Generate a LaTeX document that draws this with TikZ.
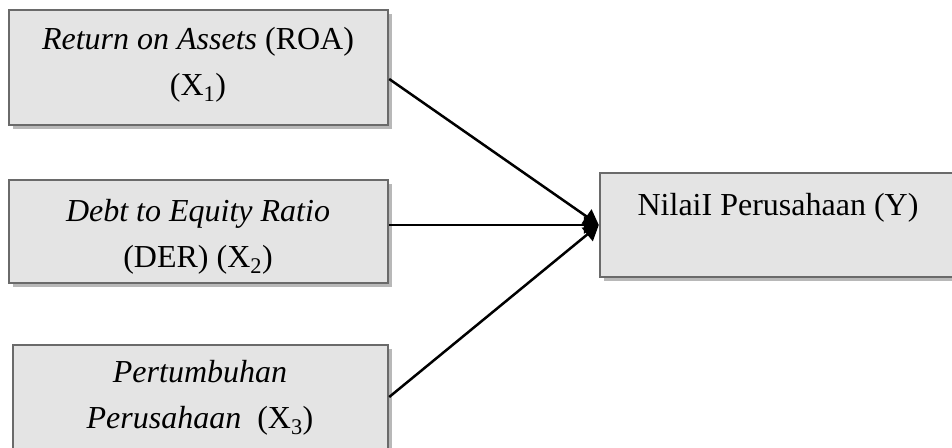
\documentclass[tikz,border=0pt]{standalone}
\usepackage{fontspec}
\setmainfont{Liberation Serif}
\usetikzlibrary{arrows.meta,shadows,calc}
\definecolor{boxfill}{HTML}{E4E4E4}
\definecolor{boxborder}{HTML}{6A6A6A}
\definecolor{shadowgray}{HTML}{B8B8B8}
\begin{document}
\begin{tikzpicture}[x=1pt,y=-1pt,
  box/.style={draw=boxborder,line width=2.4pt,fill=boxfill,rectangle,inner sep=0pt,
    drop shadow={shadow xshift=3.5pt,shadow yshift=-3.5pt,fill=shadowgray,opacity=1}},
  lbl/.style={font=\fontsize{32}{46}\selectfont,align=center,inner sep=0pt,anchor=base},
  conn/.style={line width=2.5pt,-{Triangle[length=15pt,width=17pt]}}]
\useasboundingbox (0,0) rectangle (952,447);
\node[box,minimum width=379pt,minimum height=115pt] (b1) at (198.5,67.5) {};
\node[box,minimum width=379pt,minimum height=103pt] (b2) at (198.5,231.5) {};
\node[box,minimum width=375pt,minimum height=115pt] (b3) at (200.5,402.5) {};
\node[box,minimum width=380pt,minimum height=104pt] (by) at (790,225) {};
\node[lbl] (t1) at (198,95) {\textit{Return on Assets} (ROA)\\(X\textsubscript{1})};
\node[lbl] (t2) at (198,267) {\textit{Debt to Equity Ratio}\\(DER) (X\textsubscript{2})};
\node[lbl] (t3) at (200,428) {\textit{Pertumbuhan}\\\textit{Perusahaan}\ \ (X\textsubscript{3})};
\node[lbl,anchor=base] (ty) at (778,215) {NilaiI Perusahaan (Y)};
\coordinate (tip) at (by.west);
\draw[conn] ([yshift=-11.5pt]b1.east) -- (tip);
\draw[conn] (b2.east |- tip) -- (tip);
\draw[conn] ([yshift=5.5pt]b3.east) -- (tip);
\end{tikzpicture}
\end{document}
